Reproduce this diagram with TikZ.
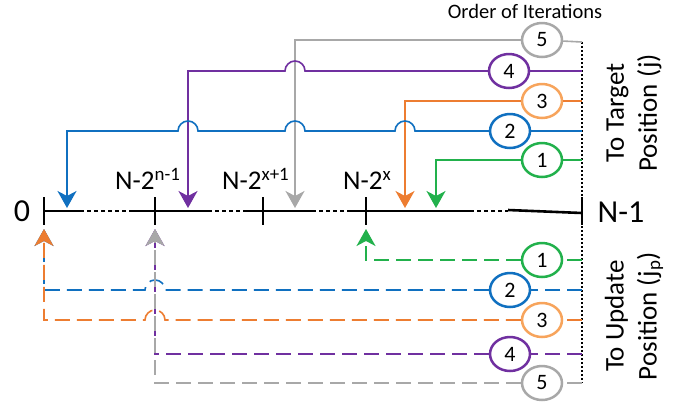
\documentclass[tikz,border=0pt]{standalone}
\usepackage{fontspec}
\setmainfont{Carlito}
\usetikzlibrary{arrows.meta,shapes.geometric}

\definecolor{cblue}{RGB}{16,112,192}
\definecolor{corange}{RGB}{237,125,49}
\definecolor{corangelt}{RGB}{247,164,92}
\definecolor{cgray}{RGB}{168,168,168}
\definecolor{cpurple}{RGB}{112,48,160}
\definecolor{cgreen}{RGB}{34,177,76}

\begin{document}
\begin{tikzpicture}[
	x=1bp, y=-1bp,
	iter/.style={ellipse, draw, line width=2.5bp, fill=white, minimum width=40bp, minimum height=34bp, inner sep=0pt, font=\fontsize{22bp}{22bp}\selectfont},
	wire/.style={line width=1.6bp},
	dwire/.style={wire, dash pattern=on 15bp off 7bp},
	tip/.style={-{Stealth[length=17bp, width=19bp, inset=5bp]}},
	axis/.style={line width=2.6bp},
	gap/.style={line width=2.6bp, dash pattern=on 4bp off 3bp},
	lbl/.style={inner sep=0pt, font=\fontsize{27bp}{27bp}\selectfont},
	side/.style={rotate=90, align=center, inner sep=0pt, font=\fontsize{27bp}{33bp}\selectfont}
	]
	\useasboundingbox (0,0) rectangle (685,405);
	
	%-----------------------
	% Customizable heights
	%-----------------------
	\def\yaxis{211}  % the array
	\def\ytop{208}   % tips from above
	\def\ybot{229}   % tips from below
	\def\xend{582}   % right end of all wires
	\def\tfive{42}   % target wires
	\def\tfour{71}
	\def\tthree{101}
	\def\ttwo{131}
	\def\tone{160}
	\def\uone{260}   % update wires
	\def\utwo{290}
	\def\uthree{320}
	\def\ufour{354}
	\def\ufive{383}
	
	%-----------------------
	% The array
	%-----------------------
	\foreach \a/\b in {44/80, 133/208, 245/312, 348/470}
		\draw[axis] (\a,\yaxis) -- (\b,\yaxis);
	\foreach \a/\b in {80/133, 208/245, 312/348, 470/508}
		\draw[gap] (\a,\yaxis) -- (\b,\yaxis);
	\draw[axis] (508,210) -- (\xend,213);
	\foreach \x in {44,155,263,366,582}
		\draw[axis] (\x,197) -- (\x,225);
	
	\node[lbl, font=\fontsize{32bp}{32bp}\selectfont] (zero) at (22,211) {0};
	\node[lbl, font=\fontsize{32bp}{32bp}\selectfont] (last) at (621,212) {N-1};
	\node[lbl, anchor=base west] (pn) at (115,189) {N-2\textsuperscript{n-1}};
	\node[lbl, anchor=base west] (px1) at (222,189) {N-2\textsuperscript{x+1}};
	\node[lbl, anchor=base west] (px) at (343,189) {N-2\textsuperscript{x}};
	
	%-----------------------
	% Labels on the right
	%-----------------------
	\node (order) at (525,11) {\fontsize{20.5bp}{20.5bp}\selectfont Order of Iterations};
	\node[side] (target) at (634,113) {To Target\\Position (j)};
	\node[side] (update) at (634,316) {To Update\\Position (j\textsubscript{p})};
	
	%-----------------------
	% Iteration circles
	%-----------------------
	\node[iter, draw=cgray] (t5) at (542,40) {5};
	\node[iter, draw=cpurple] (t4) at (509,71) {4};
	\node[iter, draw=corangelt] (t3) at (542,101) {3};
	\node[iter, draw=cblue] (t2) at (510,131) {2};
	\node[iter, draw=cgreen] (t1) at (542,160) {1};
	
	\node[iter, draw=cgreen] (u1) at (542,\uone) {1};
	\node[iter, draw=cblue] (u2) at (510,\utwo) {2};
	\node[iter, draw=corangelt] (u3) at (542,\uthree) {3};
	\node[iter, draw=cpurple] (u4) at (510,\ufour) {4};
	\node[iter, draw=cgray] (u5) at (542,\ufive) {5};
	
	%-----------------------
	% Wire ends
	%-----------------------
	\coordinate (tR5) at (\xend,\tfive);
	\coordinate (tR4) at (\xend,\tfour);
	\coordinate (tR3) at (\xend,\tthree);
	\coordinate (tR2) at (\xend,\ttwo);
	\coordinate (tR1) at (\xend,\tone);
	\coordinate (uR1) at (\xend,\uone);
	\coordinate (uR2) at (\xend,\utwo);
	\coordinate (uR3) at (\xend,\uthree);
	\coordinate (uR4) at (\xend,\ufour);
	\coordinate (uR5) at (\xend,\ufive);
	
	\coordinate (tip1) at (436,\ytop);
	\coordinate (tip2) at (67,\ytop);
	\coordinate (tip3) at (405,\ytop);
	\coordinate (tip4) at (188,\ytop);
	\coordinate (tip5) at (295,\ytop);
	\coordinate (up1) at (366,\ybot);
	\coordinate (up2) at (44,\ybot);
	\coordinate (up3) at (44,\ybot);
	\coordinate (up4) at (155,\ybot);
	\coordinate (up5) at (155,\ybot);
	
	\draw[line width=1.3bp, dash pattern=on 1.5bp off 2.5bp] (tR5) -- (uR5);
	
	%-----------------------
	% Target wires (solid)
	%-----------------------
	\draw[wire, cgray] (tR5) -- (t5);
	\draw[wire, cgray, tip] (t5) -| (tip5);
	
	\draw[wire, cpurple] (tR4) -- (t4);
	\draw[wire, cpurple, tip] (t4) -- (305,\tfour) arc[start angle=0, end angle=180, radius=10bp]
		-- (188,\tfour) -- (tip4);
	
	\draw[wire, corange] (tR3) -- (t3);
	\draw[wire, corange, tip] (t3) -| (tip3);
	
	\draw[wire, cblue] (tR2) -- (t2);
	\draw[wire, cblue, tip] (t2) -- (415,\ttwo) arc[start angle=0, end angle=180, radius=10bp]
		-- (305,\ttwo) arc[start angle=0, end angle=180, radius=10bp]
		-- (198,\ttwo) arc[start angle=0, end angle=180, radius=10bp]
		-- (67,\ttwo) -- (tip2);
	
	\draw[wire, cgreen] (tR1) -- (t1);
	\draw[wire, cgreen, tip] (t1) -| (tip1);
	
	%-----------------------
	% Update wires (dashed)
	%-----------------------
	\draw[dwire, cgreen] (uR1) -- (u1);
	\draw[dwire, cgreen, tip] (u1) -| (up1);
	
	\draw[dwire, cblue] (uR2) -- (u2);
	\draw[dwire, cblue, tip] (u2) -- (165,\utwo) arc[start angle=0, end angle=180, radius=10bp]
		-- (44,\utwo) -- (up2);
	
	\draw[dwire, corange] (uR3) -- (u3);
	\draw[dwire, corange, tip] (u3) -- (165,\uthree) arc[start angle=0, end angle=180, radius=10bp]
		-- (44,\uthree) -- (up3);
	
	\draw[dwire, cpurple] (uR4) -- (u4);
	\draw[dwire, cpurple, tip] (u4) -| (up4);
	
	\draw[dwire, cgray] (uR5) -- (u5);
	\draw[dwire, cgray, tip] (u5) -| (up5);
	
\end{tikzpicture}
\end{document}
